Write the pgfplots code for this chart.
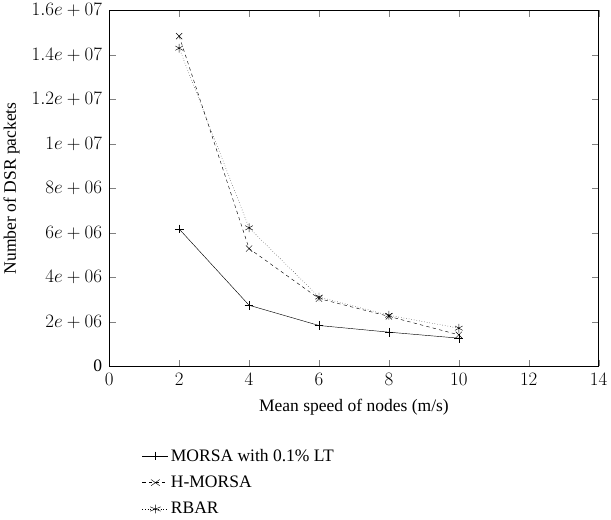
\documentclass[border=0pt]{standalone}
\usepackage{pgfplots}
\pgfplotsset{compat=1.18}
\usepackage{fontspec}
\setmainfont{Liberation Serif}
\begin{document}
\begin{tikzpicture}
\begin{axis}[
  width=447pt, height=325pt, scale only axis,
  font=\fontsize{16}{19}\selectfont,
  xmin=0, xmax=14, ymin=0, ymax=1.6e7,
  xtick={0,2,...,14},
  ytick={0,2e6,4e6,6e6,8e6,1e7,1.2e7,1.4e7,1.6e7},
  yticklabels={0,$2e+06$,$4e+06$,$6e+06$,$8e+06$,$1e+07$,$1.2e+07$,$1.4e+07$,$1.6e+07$},
  scaled y ticks=false,
  tick align=inside, tick pos=both, major tick length=6pt,
  xticklabel style={yshift=-3pt}, yticklabel style={xshift=-3pt},
  xlabel={Mean speed of nodes (m/s)},
  xlabel style={yshift=-6pt},
  ylabel={Number of DSR packets},
  ylabel style={yshift=4pt},
  legend cell align=left,
  legend style={draw=none, at={(0.06,-0.22)}, anchor=north west, font=\fontsize{16}{19}\selectfont, row sep=8pt},
  legend image post style={xscale=1.4},
]
\addplot[black, mark=+, mark size=4pt] coordinates {(2,6.17e6)(4,2.74e6)(6,1.83e6)(8,1.53e6)(10,1.26e6)};
\addplot[black, dashed, mark=x, mark size=4pt, mark options={solid}] coordinates {(2,14.84e6)(4,5.29e6)(6,3.04e6)(8,2.24e6)(10,1.41e6)};
\addplot[black, dotted, mark=asterisk, mark size=4pt, mark options={solid}] coordinates {(2,14.3e6)(4,6.22e6)(6,3.11e6)(8,2.29e6)(10,1.71e6)};
\legend{MORSA with 0.1\% LT, H-MORSA, RBAR}
\end{axis}
\end{tikzpicture}
\end{document}
